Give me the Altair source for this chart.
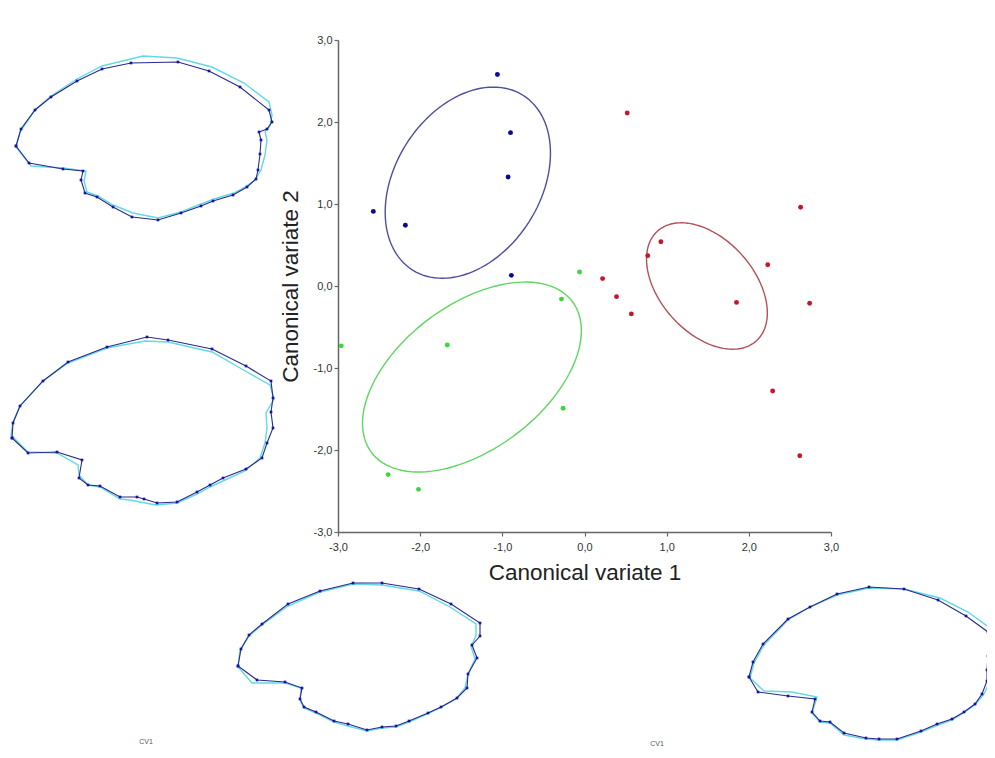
import altair as alt
import numpy as np
import pandas as pd

W, H = 979, 742

# ---- main scatter data (canonical variates) ----
blue_x = [-1.06, -0.90, -0.93, -2.57, -2.18, -0.89]
blue_y = [2.58, 1.87, 1.33, 0.91, 0.74, 0.13]
red_x = [0.52, 2.63, 0.93, 0.77, 2.23, 0.22, 0.39, 0.57, 1.85, 2.74, 2.29, 2.62]
red_y = [2.11, 0.96, 0.54, 0.37, 0.26, 0.09, -0.13, -0.34, -0.20, -0.21, -1.28, -2.07]
green_x = [-0.06, -0.28, -2.96, -1.67, -0.26, -2.39, -2.02]
green_y = [0.17, -0.16, -0.73, -0.72, -1.49, -2.30, -2.48]

groups = ["blue", "red", "green"]
point_colors = ["#0a0a96", "#c4182a", "#3ed63e"]

# ---- confidence ellipses: centre, semi-axes, rotation ----
ell_groups = ["blue", "green", "red"]
ell_cx = [-1.42, -1.37, 1.49]
ell_cy = [1.26, -1.11, 0.00]
ell_a = [1.26, 1.53, 0.90]
ell_b = [0.885, 0.88, 0.57]
ell_deg = [57.8, 37.0, -48.2]
ell_colors = ["#4e4e9e", "#5fd65f", "#b4505a"]

# ---- landmark outlines (local pixel coords in each panel) ----
p1_nav = [(16,96),(29,113),(63,119),(83,121),(81,130),(85,143),(97,147),(113,157),(132,167),(158,170),
          (181,163),(201,156),(213,151),(233,145),(247,137),(256,129),(258,120),(260,104),(261,90),(259,82),
          (267,79),(272,72),(269,60),(240,37),(209,21),(178,12),(131,13),(102,19),(77,31),(51,47),(35,60),(21,79)]
p1_cyan = [(16,97),(31,116),(63,118),(86,121),(84,131),(87,142),(98,146),(113,155),(133,163),(158,168),
           (181,162),(201,154),(214,149),(234,143),(245,137),(255,130),(261,120),(265,105),(267,90),(265,82),
           (270,76),(272,65),(269,52),(244,33),(212,17),(177,8),(143,6),(102,16),(77,29),(51,46),(35,60),(20,82)]
p2_nav = [(12,113),(13,98),(20,81),(43,56),(68,37),(107,22),(147,12),(168,15),(212,24),(246,41),
          (271,56),(273,73),(271,87),(273,103),(267,118),(262,133),(246,144),(223,153),(210,160),(197,167),
          (177,177),(157,178),(144,174),(137,172),(120,172),(100,161),(88,160),(79,153),(82,135),(57,127),(28,128)]
p2_cyan = [(11,110),(13,97),(20,81),(43,56),(68,38),(107,23),(145,16),(168,17),(212,27),(247,47),
           (270,60),(274,74),(266,88),(267,103),(265,118),(260,133),(245,146),(225,155),(210,162),(197,169),
           (177,178),(156,180),(140,177),(130,175),(120,174),(100,162),(88,160),(79,150),(78,140),(57,128),(28,127)]
p3_nav = [(13,96),(16,79),(24,65),(37,54),(63,34),(95,21),(128,13),(157,13),(194,19),(226,34),
          (255,53),(255,66),(247,75),(252,88),(243,104),(242,118),(232,128),(216,137),(203,143),(184,151),
          (171,156),(157,157),(142,160),(123,154),(109,151),(91,142),(79,137),(75,129),(77,118),(60,112),(32,110)]
p3_cyan = [(13,97),(15,80),(24,66),(37,55),(63,36),(95,22),(128,14),(157,15),(194,21),(225,37),
           (251,54),(251,66),(246,76),(250,89),(243,104),(240,118),(231,129),(215,138),(202,144),(184,152),
           (171,157),(157,158),(142,161),(123,156),(109,152),(91,143),(79,138),(75,130),(76,118),(60,113),(27,113)]
p4_nav = [(19,102),(23,87),(33,69),(58,44),(80,32),(107,19),(139,12),(174,14),(208,25),(236,41),
          (258,57),(262,71),(258,81),(257,95),(257,106),(252,119),(245,129),(234,137),(222,144),(207,149),
          (191,156),(167,164),(149,164),(136,163),(114,158),(100,147),(90,146),(82,137),(85,124),(58,121),(28,117)]
p4_cyan = [(20,103),(24,88),(34,70),(58,45),(80,32),(107,20),(139,13),(174,14),(210,23),(238,37),
           (264,56),(265,72),(259,82),(262,95),(260,106),(254,119),(246,129),(235,137),(222,145),(208,150),
           (191,157),(167,165),(149,165),(136,164),(114,160),(100,148),(90,147),(82,138),(87,122),(62,117),(34,116)]

panel_origin = [(0, 50), (0, 325), (225, 570), (730, 575)]
panel_nav = [p1_nav, p2_nav, p3_nav, p4_nav]
panel_cyan = [p1_cyan, p2_cyan, p3_cyan, p4_cyan]
panel_labels = [None, None, ("CV1", -79, 172), ("CV1", -73, 169)]

FONT = "Liberation Sans"

# ---------------- main plot ----------------
XR = [330, 823]
YR = [524, 32]
label_expr = "replace(replace(format(datum.value, '.1f'), '.', ','), '\u2212', '-')"

def xs_main():
    return alt.Scale(domain=[-3, 3], range=XR, nice=False, zero=False)

def ys_main():
    return alt.Scale(domain=[-3, 3], range=YR, nice=False, zero=False)

pts = pd.DataFrame({
    "cv1": blue_x + red_x + green_x,
    "cv2": blue_y + red_y + green_y,
    "grp": ["blue"] * len(blue_x) + ["red"] * len(red_x) + ["green"] * len(green_x),
})

axis_common = dict(values=[-3, -2, -1, 0, 1, 2, 3], labelExpr=label_expr, labelFont=FONT,
                   labelFontSize=11, labelColor="#333", tickColor="#666", domainColor="#666",
                   domainWidth=1.5, tickWidth=1.2,
                   tickSize=4, grid=False, labelFlush=False, titleFont=FONT, titleFontSize=22.5,
                   titleFontWeight="normal", titleColor="#222")

layers = []
for g, cx, cy, a, b, d, col in zip(ell_groups, ell_cx, ell_cy, ell_a, ell_b, ell_deg, ell_colors):
    t = np.linspace(0, 2 * np.pi, 121)
    th = np.deg2rad(d)
    ex = cx + a * np.cos(t) * np.cos(th) - b * np.sin(t) * np.sin(th)
    ey = cy + a * np.cos(t) * np.sin(th) + b * np.sin(t) * np.cos(th)
    edf = pd.DataFrame({"ex": ex, "ey": ey, "i": np.arange(len(t))})
    layers.append(
        alt.Chart(edf).mark_line(strokeWidth=1.4, color=col).encode(
            x=alt.X("ex:Q", scale=xs_main(), axis=None),
            y=alt.Y("ey:Q", scale=ys_main(), axis=None),
            order="i:Q",
        )
    )

layers.append(
    alt.Chart(pts).mark_circle(size=24, opacity=1).encode(
        x=alt.X("cv1:Q", scale=xs_main(),
                axis=alt.Axis(title="Canonical variate 1", orient="bottom", offset=YR[0] - H,
                              labelPadding=5, titlePadding=9, **axis_common)),
        y=alt.Y("cv2:Q", scale=ys_main(),
                axis=alt.Axis(title="Canonical variate 2", orient="left", offset=-XR[0],
                              labelPadding=2, titlePadding=11, **axis_common)),
        color=alt.Color("grp:N", scale=alt.Scale(domain=groups, range=point_colors), legend=None),
    )
)

# ---------------- outline panels ----------------
for (ox, oy), nav, cyan, lab in zip(panel_origin, panel_nav, panel_cyan, panel_labels):
    def sx():
        return alt.Scale(domain=[0, 100], range=[ox - 8, ox - 8 + 100], nice=False, zero=False)
    def sy():
        return alt.Scale(domain=[0, 100], range=[oy - 8, oy - 8 + 100], nice=False, zero=False)
    cyc = cyan + [cyan[0]]
    nvc = nav + [nav[0]]
    cdf = pd.DataFrame({"px": [p[0] for p in cyc], "py": [p[1] for p in cyc], "i": range(len(cyc))})
    ndf = pd.DataFrame({"px": [p[0] for p in nvc], "py": [p[1] for p in nvc], "i": range(len(nvc))})
    layers.append(alt.Chart(cdf).mark_line(strokeWidth=1.4, color="#62d9e3").encode(
        x=alt.X("px:Q", scale=sx(), axis=None), y=alt.Y("py:Q", scale=sy(), axis=None), order="i:Q"))
    layers.append(alt.Chart(ndf).mark_line(strokeWidth=1.1, color="#2a2a8c").encode(
        x=alt.X("px:Q", scale=sx(), axis=None), y=alt.Y("py:Q", scale=sy(), axis=None), order="i:Q"))
    layers.append(alt.Chart(ndf).mark_square(size=7, color="#1414aa", opacity=1).encode(
        x=alt.X("px:Q", scale=sx(), axis=None), y=alt.Y("py:Q", scale=sy(), axis=None)))
    if lab:
        ldf = pd.DataFrame({"t": [lab[0]], "px": [lab[1]], "py": [lab[2]]})
        layers.append(alt.Chart(ldf).mark_text(fontSize=7, font=FONT, color="#555").encode(
            x=alt.X("px:Q", scale=sx(), axis=None), y=alt.Y("py:Q", scale=sy(), axis=None),
            text="t:N"))

chart = alt.layer(*layers).resolve_scale(x="independent", y="independent").properties(
    width=W, height=H, autosize=alt.AutoSizeParams(type="none"), padding=0, background="white"
).configure_view(stroke=None)

chart.save("out.html", embed_options={"renderer": "svg", "actions": False})
